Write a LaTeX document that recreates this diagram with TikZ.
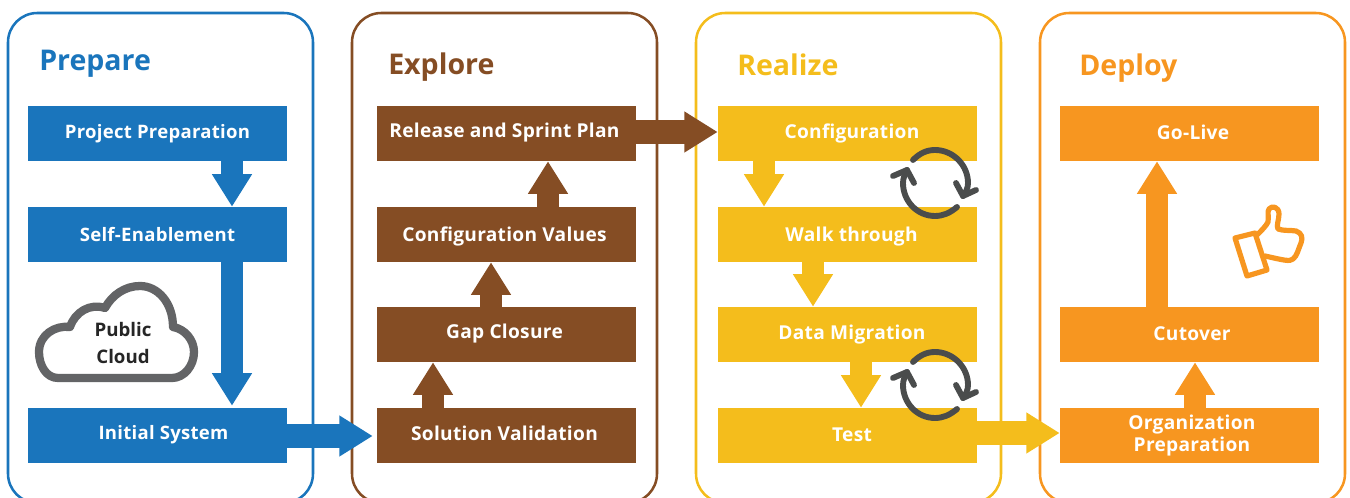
\documentclass[tikz,border=0pt]{standalone}
\usepackage{fontspec}
\setmainfont{Open Sans}[LetterSpace=1.5]
\newfontfamily\titlefont{Open Sans}
\usetikzlibrary{arrows.meta}
\definecolor{cblue}{HTML}{1A75BC}
\definecolor{cbrown}{HTML}{854D24}
\definecolor{cyellow}{HTML}{F4BD1C}
\definecolor{corange}{HTML}{F79620}
\definecolor{cgray}{HTML}{636466}
\definecolor{cdark}{HTML}{4A4C4C}
\newdimen\pxu \pxu=.75pt
\newcommand\bt[3]{\kern #1\pxu\kern #1\pxu\raisebox{\dimexpr -8.85pt - #2\pxu\relax}{\smash{#3}}}
\tikzset{
  panel/.style={draw=#1,line width=1.9pt,rounded corners=22pt},
  boxnode/.style={fill=#1,minimum width=194.25pt,minimum height=41.25pt,inner sep=0pt,text=white,font=\fontsize{14.35pt}{16.5pt}\selectfont\bfseries,align=center},
  bluenode/.style={boxnode=cblue,font=\fontsize{13.9pt}{16.5pt}\selectfont\bfseries},
  titlenode/.style={text=#1,anchor=base west,inner sep=0pt,font=\titlefont\fontsize{21.4pt}{26pt}\selectfont\bfseries},
  blockv/.style={draw=#1,line width=16.5pt,arrows={-{Triangle[length=24.5pt,width=28.5pt]}}},
  blockh/.style={draw=#1,line width=17.5pt,arrows={-{Triangle[length=25pt,width=29pt]}}},
  cyc/.style={draw=cdark,line width=4.4pt,line cap=round,line join=round},
}
\begin{document}
\begin{tikzpicture}[x=0.75pt,y=-0.75pt]
\useasboundingbox (0,0) rectangle (1350,498);
% panels
\draw[panel=cblue] (8,13) rectangle (313,503);
\draw[panel=cbrown] (352,13) rectangle (657,503);
\draw[panel=cyellow] (696,13) rectangle (1001,503);
\draw[panel=corange] (1040,13) rectangle (1345,503);
% titles
\node[titlenode=cblue] (tprep) at (39,71) {Prepare};
\node[titlenode=cbrown] (texpl) at (388,75) {Explore};
\node[titlenode=cyellow] (treal) at (737,76) {Realize};
\node[titlenode=corange] (tdepl) at (1079,76) {Deploy};
% boxes
\node[bluenode] (pp) at (157.5,133.5) {\bt{0}{-1.5}{Project Preparation}};
\node[bluenode] (se) at (157.5,234.5) {\bt{0}{1.5}{Self-Enablement}};
\node[bluenode] (is) at (157.5,435.5) {\bt{6}{-4.5}{Initial System}};
\node[boxnode=cbrown] (rs) at (506.5,133.5) {\bt{-2}{-3.5}{Release and Sprint Plan}};
\node[boxnode=cbrown] (cv) at (506.5,234.5) {\bt{-2}{1.5}{Configuration Values}};
\node[boxnode=cbrown] (gc) at (506.5,334.5) {\bt{-2}{-3.5}{Gap Closure}};
\node[boxnode=cbrown] (sv) at (506.5,435.5) {\bt{-2}{-1.5}{Solution Validation}};
\node[boxnode=cyellow] (co) at (847.5,133.5) {\bt{4.5}{-1.5}{Configuration}};
\node[boxnode=cyellow] (wt) at (847.5,234.5) {\bt{4}{2.5}{Walk through}};
\node[boxnode=cyellow] (dm) at (847.5,334.5) {\bt{4.5}{-1.5}{Data Migration}};
\node[boxnode=cyellow] (te) at (847.5,435.5) {\bt{4.5}{-0.5}{Test}};
\node[boxnode=corange] (gl) at (1189.5,133.5) {\bt{3.5}{-0.5}{Go-Live}};
\node[boxnode=corange] (cu) at (1189.5,334.5) {\bt{2.5}{-0.5}{Cutover}};
\node[boxnode=corange] (op) at (1189.5,435.5) {\kern 5\pxu Organization\\\kern 5\pxu Preparation};
% connector guide coordinates
\coordinate (a1) at (232,0);
\coordinate (b1) at (433,0);
\coordinate (b2) at (491,0);
\coordinate (b3) at (548,0);
\coordinate (c1) at (764,0);
\coordinate (c2) at (813,0);
\coordinate (c3) at (861,0);
\coordinate (d1) at (1157,0);
\coordinate (d2) at (1195,0);
\coordinate (h1) at (0,436);
\coordinate (h2) at (0,132);
\coordinate (h3) at (0,433);
% connectors
\draw[blockv=cblue] (pp.south -| a1) -- (se.north -| a1);
\draw[blockv=cblue,shorten >=1.5pt] (se.south -| a1) -- (is.north -| a1);
\draw[blockh=cblue,shorten >=3pt] (is.east |- h1) -- (sv.west |- h1);
\draw[blockv=cbrown] (sv.north -| b1) -- (gc.south -| b1);
\draw[blockv=cbrown] (gc.north -| b2) -- (cv.south -| b2);
\draw[blockv=cbrown] (cv.north -| b3) -- (rs.south -| b3);
\draw[blockh=cbrown] (rs.east |- h2) -- (co.west |- h2);
\draw[blockv=cyellow] (co.south -| c1) -- (wt.north -| c1);
\draw[blockv=cyellow] (wt.south -| c2) -- (dm.north -| c2);
\draw[blockv=cyellow] (dm.south -| c3) -- (te.north -| c3);
\draw[blockh=cyellow] (te.east |- h3) -- (op.west |- h3);
\draw[blockv=corange] (cu.north -| d1) -- (gl.south -| d1);
\draw[blockv=corange] (op.north -| d2) -- (cu.south -| d2);
% cycle icons
\foreach \dy in {0,202}{
  \begin{scope}[yshift=-\dy*0.75pt]
    \draw[cyc] (913,160) .. controls (920,153) and (927,150) .. (935,150) .. controls (953,150) and (968,165) .. (968,183) .. controls (968,188) and (966,192) .. (963,196);
    \draw[cyc] (956,183) -- (963,196) -- (976,190);
    \draw[cyc] (957,207) .. controls (950,213) and (943,216) .. (935,216) .. controls (917,216) and (903,201) .. (903,183) .. controls (903,178) and (905,174) .. (907,170);
    \draw[cyc] (893,176) -- (907,170) -- (914,183);
  \end{scope}
}
% thumb
\draw[draw=corange,line width=3.9pt,line join=round,line cap=round]
  (1235,238) -- (1255,233) -- (1267,270) -- (1247,276) -- cycle;
\draw[draw=corange,line width=3.9pt,line join=round,line cap=round]
  (1257,235) .. controls (1262,230) and (1266,226) .. (1268,222)
  .. controls (1269,216) and (1267,212) .. (1269,209)
  .. controls (1272,205) and (1279,207) .. (1279,214)
  .. controls (1279,220) and (1276,226) .. (1278,229)
  .. controls (1283,231) and (1290,230) .. (1296,231)
  .. controls (1302,233) and (1303,238) .. (1301,243)
  .. controls (1298,250) and (1297,256) .. (1293,259)
  .. controls (1290,262) and (1283,260) .. (1265,256);
% cloud
\draw[draw=cgray,line width=6.2pt,line join=round,fill=white]
  (58,378) .. controls (46,378) and (39,365) .. (39,352)
  .. controls (39,335) and (55,325) .. (70,327)
  .. controls (75,312) and (90,303) .. (105,308)
  .. controls (112,295) and (125,286) .. (140,286)
  .. controls (158,286) and (173,303) .. (173,327)
  .. controls (185,329) and (194,340) .. (194,352)
  .. controls (194,366) and (184,378) .. (172,378) -- cycle;
\node[text=black!85,font=\titlefont\fontsize{14pt}{20pt}\selectfont\bfseries,align=center,inner sep=0pt] (cl) at (123,343) {Public\\Cloud};
\end{tikzpicture}
\end{document}
